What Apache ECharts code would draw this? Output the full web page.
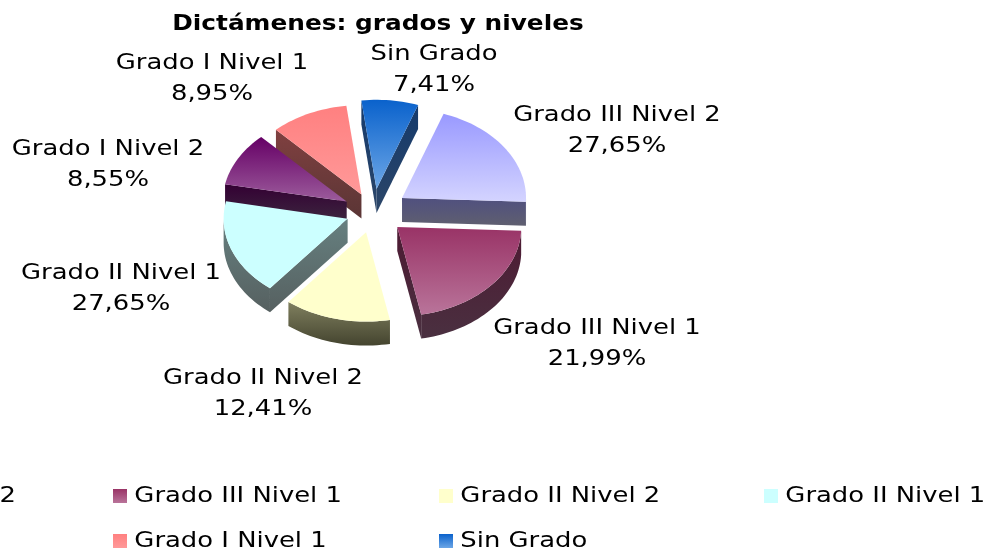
<!DOCTYPE html>
<html>
<head>
<meta charset="utf-8">
<style>
  html, body { margin: 0; padding: 0; background: #fff; overflow: hidden; }
  #chart { width: 985px; height: 552px; }
</style>
<script src="https://cdn.jsdelivr.net/npm/echarts@6/dist/echarts.min.js"></script>
</head>
<body>
<div id="chart"></div>
<script>
// slice names, clockwise from the first slice
const names = ['Sin Grado', 'Grado III Nivel 2', 'Grado III Nivel 1', 'Grado II Nivel 2', 'Grado II Nivel 1', 'Grado I Nivel 2', 'Grado I Nivel 1']
// printed labels, as they stand in the picture (they add up to more than 100)
const printed = ['7,41%', '27,65%', '21,99%', '12,41%', '27,65%', '8,55%', '8,95%']
// slice sizes as drawn
const shares = [7.41, 20.3, 21.3, 13.9, 17.4, 9.8, 10.2]

const chartTitle = 'Dictámenes: grados y niveles'
const fontName = '"DejaVu Sans", Verdana, sans-serif'
const center = [373, 212]
const radius = 124
const tilt = 0.72
const depth = 24
const startAngle = -7
const explode = [32, 35, 32, 29, 27, 30, 27]
const topColors = [['#0a62cc', '#6ca6e6'], ['#9999ff', '#d4d4ff'], ['#993366', '#b9749a'], ['#ffffcc', '#ffffcc'], ['#ccffff', '#ccffff'], ['#660066', '#9c5c9c'], ['#ff8080', '#ff9999']]
const sideColors = [['#153a6c', '#2c4668'], ['#50507f', '#5f5f70'], ['#4d1a33', '#4a3040'], ['#80805f', '#44442f'], ['#668080', '#566060'], ['#330033', '#3d2a40'], ['#804040', '#5a3535']]
const labelPos = [[434, 70], [617, 131], [597, 344], [263, 394], [121, 289], [108, 165], [212, 79]]

const total = shares.reduce((a, b) => a + b, 0)
const rad = d => d * Math.PI / 180

function vGrad(c) {
  return new echarts.graphic.LinearGradient(0, 0, 0, 1, [{ offset: 0, color: c[0] }, { offset: 1, color: c[1] }])
}

function sliceRange(i) {
  const before = shares.slice(0, i).reduce((a, b) => a + b, 0)
  return [startAngle + before / total * 360, startAngle + (before + shares[i]) / total * 360]
}

function renderSlice(i) {
  const [a0, a1] = sliceRange(i)
  const mid = rad((a0 + a1) / 2)
  const ox = center[0] + explode[i] * Math.sin(mid)
  const oy = center[1] - explode[i] * tilt * Math.cos(mid)
  const pt = (deg, drop) => [ox + radius * Math.sin(rad(deg)), oy - radius * tilt * Math.cos(rad(deg)) + drop]
  const arc = (from, to, drop) => {
    const out = []
    const n = Math.max(2, Math.ceil(Math.abs(to - from) / 2))
    for (let k = 0; k <= n; k++) out.push(pt(from + (to - from) * k / n, drop))
    return out
  }
  const poly = (points, fill) => ({ type: 'polygon', shape: { points }, style: { fill } })
  const kids = []
  const sideFill = vGrad(sideColors[i])
  // cut faces, only those turned towards the viewer
  if (Math.sin(rad(a0)) < 0) kids.push(poly([[ox, oy], pt(a0, 0), pt(a0, depth), [ox, oy + depth]], sideFill))
  if (Math.sin(rad(a1)) > 0) kids.push(poly([[ox, oy], pt(a1, 0), pt(a1, depth), [ox, oy + depth]], sideFill))
  // outer wall, only the part that faces the viewer
  const w0 = Math.max(a0, 90)
  const w1 = Math.min(a1, 270)
  if (w1 > w0) kids.push(poly(arc(w0, w1, 0).concat(arc(w1, w0, depth)), sideFill))
  // top face
  kids.push(poly([[ox, oy]].concat(arc(a0, a1, 0)), vGrad(topColors[i])))
  // label
  kids.push({
    type: 'text',
    z2: 50,
    style: {
      x: labelPos[i][0], y: labelPos[i][1], text: names[i] + '\n' + printed[i],
      align: 'center', verticalAlign: 'middle', fill: '#000',
      font: '22px ' + fontName, lineHeight: 31
    }
  })
  return { type: 'group', children: kids }
}

const series = names.map((name, i) => {
  const [a0, a1] = sliceRange(i)
  return {
    type: 'custom',
    name: name,
    coordinateSystem: 'none',
    // back slices first, front ones on top
    z: 10 - 5 * Math.cos(rad((a0 + a1) / 2)),
    itemStyle: { color: vGrad(topColors[i]) },
    data: [[shares[i]]],
    renderItem: () => renderSlice(i)
  }
})

const legendBase = {
  orient: 'vertical',
  top: 485,
  height: 100,
  padding: 0,
  itemGap: 23,
  itemWidth: 14,
  itemHeight: 14,
  icon: 'rect',
  selectedMode: false,
  textStyle: { fontFamily: fontName, fontSize: 22, color: '#000', padding: [0, 0, 0, 2] }
}

const chart = echarts.init(document.getElementById('chart'))
chart.setOption({
  animation: false,
  backgroundColor: '#fff',
  title: {
    text: chartTitle,
    left: 373,
    textAlign: 'center',
    top: 9,
    textStyle: { fontFamily: fontName, fontSize: 21, fontWeight: 'bold', color: '#000' }
  },
  legend: [
    Object.assign({}, legendBase, { left: -213, data: [names[1], names[5]] }),
    Object.assign({}, legendBase, { left: 113, data: [names[2], names[6]] }),
    Object.assign({}, legendBase, { left: 439, data: [names[3], names[0]] }),
    Object.assign({}, legendBase, { left: 764, data: [names[4]] })
  ],
  series: series
})

// the picture's text is wider than DejaVu, stretch it sideways around its anchor
chart.getZr().storage.traverse(el => {
  if (el.type !== 'text' || !el.style || !el.style.text) return
  el.originX = el.style.x || 0
  el.originY = el.style.y || 0
  el.scaleX = el.style.text === chartTitle ? 1.18 : 1.175
  el.markRedraw()
})
</script>
</body>
</html>
